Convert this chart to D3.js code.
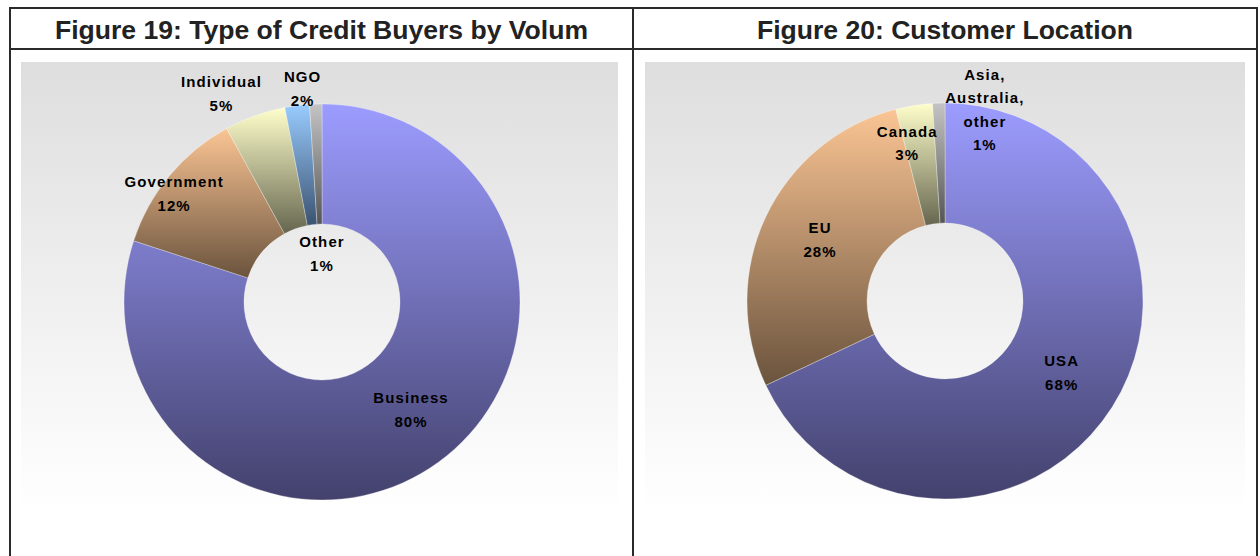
<!DOCTYPE html>
<html>
<head>
<meta charset="utf-8">
<script src="https://cdn.jsdelivr.net/npm/d3@7"></script>
<style>
  html, body { margin: 0; padding: 0; background: #fff; }
  svg { display: block; }
</style>
</head>
<body>
<svg id="chart" width="1260" height="556"></svg>
<script>
// ---- data ----
const titles = ["Figure 19: Type of Credit Buyers by Volum", "Figure 20: Customer Location"];

const buyerTypes = ["Business", "Government", "Individual", "NGO", "Other"];
const buyerShares = [80, 12, 5, 2, 1];

const locations = ["USA", "EU", "Canada", "Asia, Australia, other"];
const locationShares = [68, 28, 3, 1];

// gradient colours (top, bottom) per slice
const buyerColors = [["#9c9cff", "#43416c"], ["#fbc594", "#6a533d"], ["#ffffcc", "#66664f"], ["#99ccff", "#3b5270"], ["#c4c4c4", "#555555"]];
const locationColors = [["#9c9cff", "#43416c"], ["#fbc594", "#6a533d"], ["#ffffcc", "#66664f"], ["#c4c4c4", "#555555"]];

// label placement: [angle offset from slice middle (deg), radius]
const buyerLabelPos = [[-3.5, 140], [-3.5, 183], [-6, 231], [2, 214], [1.8, 48]];
const locationLabelPos = [[-0.8, 137], [0.8, 139], [-4.5, 162], [13.6, 195]];

// ---- layout ----
const svg = d3.select("#chart");
const frame = { left: 10, mid: 633, right: 1257, top: 8, titleBottom: 49 };

const panels = [
  { title: titles[0], titleW: 533, names: buyerTypes, values: buyerShares, colors: buyerColors, labelPos: buyerLabelPos,
    x0: frame.left, x1: frame.mid, bg: [21, 62, 597, 450], cx: 322, cy: 302 },
  { title: titles[1], titleW: 376, names: locations, values: locationShares, colors: locationColors, labelPos: locationLabelPos,
    x0: frame.mid, x1: frame.right, bg: [645, 62, 600, 450], cx: 945, cy: 301 }
];

const defs = svg.append("defs");
const bgGrad = defs.append("linearGradient").attr("id", "bg-grad")
  .attr("x1", 0).attr("y1", 0).attr("x2", 0).attr("y2", 1);
bgGrad.append("stop").attr("offset", "0%").attr("stop-color", "#dedede");
bgGrad.append("stop").attr("offset", "100%").attr("stop-color", "#ffffff");

const outerR = 198, innerR = 78;
const arc = d3.arc().innerRadius(innerR).outerRadius(outerR);
const pie = d3.pie().sort(null).value(d => d.value);
const toRad = Math.PI / 180;

panels.forEach((p, pi) => {
  // chart area background
  svg.append("rect")
    .attr("x", p.bg[0]).attr("y", p.bg[1])
    .attr("width", p.bg[2]).attr("height", p.bg[3])
    .attr("fill", "url(#bg-grad)");

  // title
  svg.append("text")
    .attr("x", (p.x0 + p.x1) / 2).attr("y", 39)
    .attr("text-anchor", "middle")
    .attr("font-family", "Liberation Sans, Arial, sans-serif")
    .attr("font-weight", "bold").attr("font-size", 25.5)
    .attr("textLength", p.titleW).attr("lengthAdjust", "spacingAndGlyphs")
    .attr("fill", "#222")
    .text(p.title);

  const data = p.names.map((n, i) => ({ name: n, value: p.values[i], color: p.colors[i], lp: p.labelPos[i] }));

  data.forEach((d, i) => {
    const g = defs.append("linearGradient").attr("id", `g${pi}-${i}`)
      .attr("x1", 0).attr("y1", 0).attr("x2", 0).attr("y2", 1);
    g.append("stop").attr("offset", "0%").attr("stop-color", d.color[0]);
    g.append("stop").attr("offset", "100%").attr("stop-color", d.color[1]);
  });

  const g = svg.append("g").attr("transform", `translate(${p.cx},${p.cy})`);
  const arcs = pie(data);

  g.selectAll("path")
    .data(arcs)
    .join("path")
    .attr("d", arc)
    .attr("fill", (d, i) => `url(#g${pi}-${i})`)
    .attr("stroke", "rgba(255,255,255,0.5)")
    .attr("stroke-width", 0.6);

  const labels = g.selectAll("text.lbl")
    .data(arcs)
    .join("text")
    .attr("class", "lbl")
    .attr("text-anchor", "middle")
    .attr("font-family", "Liberation Sans, Arial, sans-serif")
    .attr("font-weight", "bold").attr("font-size", 15)
    .attr("letter-spacing", 1.1)
    .attr("fill", "#000");

  labels.each(function (d) {
    const a = ((d.startAngle + d.endAngle) / 2) + d.data.lp[0] * toRad;
    const r = d.data.lp[1];
    const x = r * Math.sin(a), y = -r * Math.cos(a);
    const lines = d.data.name.split(" ").concat([d.data.value + "%"]);
    const lh = 23.5;
    const y0 = y - (lines.length - 1) * lh / 2 + 5;
    d3.select(this).selectAll("tspan")
      .data(lines)
      .join("tspan")
      .attr("x", x)
      .attr("y", (t, k) => y0 + k * lh)
      .text(t => t);
  });
});

// frame lines
const lineColor = "#2a2a2a";
svg.append("rect")
  .attr("x", frame.left).attr("y", frame.top)
  .attr("width", frame.right - frame.left).attr("height", 600)
  .attr("fill", "none").attr("stroke", lineColor).attr("stroke-width", 2);
svg.append("line")
  .attr("x1", frame.left).attr("x2", frame.right)
  .attr("y1", frame.titleBottom).attr("y2", frame.titleBottom)
  .attr("stroke", lineColor).attr("stroke-width", 2);
svg.append("line")
  .attr("x1", frame.mid).attr("x2", frame.mid)
  .attr("y1", frame.top).attr("y2", 556)
  .attr("stroke", lineColor).attr("stroke-width", 2);
</script>
</body>
</html>
